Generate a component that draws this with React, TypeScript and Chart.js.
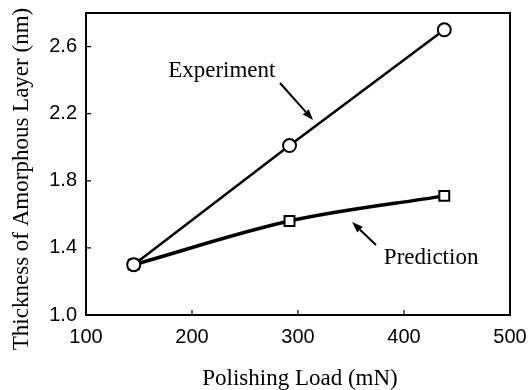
import React, { useEffect, useRef } from "react";
import { Chart, registerables } from "chart.js";

Chart.register(...registerables);

// ---- data ----
const loads = [145, 292, 438];
const experiment = [1.3, 2.01, 2.7];
const prediction = [1.3, 1.56, 1.71];
const xTicks = [100, 200, 300, 400, 500];
const yTicks = [1.0, 1.4, 1.8, 2.2, 2.6];
const xTitle = "Polishing Load (mN)";
const yTitle = "Thickness of Amorphous Layer (nm)";
const noteTexts = ["Experiment", "Prediction"];

// annotation placement (data units): text baseline-left anchor, arrow start, arrow tip
const notePlacement = [
  { tx: 177.5, ty: 2.418, ax0: 283, ay0: 2.383, ax1: 314.2, ay1: 2.162 },
  { tx: 381, ty: 1.304, ax0: 373.6, ay0: 1.417, ax1: 351, ay1: 1.554 },
];

const SERIF = "'Liberation Serif', 'Times New Roman', serif";
const SANS = "'Liberation Sans', Arial, sans-serif";

const framePlugin = {
  id: "frameAndNotes",
  afterDatasetsDraw(chart: any) {
    const { ctx, chartArea, scales } = chart;
    const xs = scales.x;
    const ys = scales.y;
    ctx.save();
    ctx.strokeStyle = "#000";
    ctx.lineWidth = 2;
    ctx.strokeRect(
      chartArea.left,
      chartArea.top,
      chartArea.right - chartArea.left,
      chartArea.bottom - chartArea.top
    );
    // inward tick marks
    ctx.lineWidth = 1.2;
    ctx.beginPath();
    xTicks.slice(1, -1).forEach((v) => {
      const px = xs.getPixelForValue(v);
      ctx.moveTo(px, chartArea.bottom);
      ctx.lineTo(px, chartArea.bottom - 5);
    });
    yTicks.slice(1).forEach((v) => {
      const py = ys.getPixelForValue(v);
      ctx.moveTo(chartArea.left, py);
      ctx.lineTo(chartArea.left + 5, py);
    });
    ctx.stroke();

    // axis titles
    ctx.fillStyle = "#000";
    ctx.font = `23px ${SERIF}`;
    ctx.textAlign = "center";
    ctx.textBaseline = "alphabetic";
    ctx.fillText(xTitle, (chartArea.left + chartArea.right) / 2 + 2, chart.height - 5);
    ctx.save();
    ctx.translate(28, (chartArea.top + chartArea.bottom) / 2 + 15);
    ctx.rotate(-Math.PI / 2);
    ctx.fillText(yTitle, 0, 0);
    ctx.restore();

    // annotations
    ctx.textAlign = "left";
    ctx.textBaseline = "alphabetic";
    noteTexts.forEach((t, i) => {
      const p = notePlacement[i];
      ctx.fillText(t, xs.getPixelForValue(p.tx), ys.getPixelForValue(p.ty));
      const x0 = xs.getPixelForValue(p.ax0);
      const y0 = ys.getPixelForValue(p.ay0);
      const x1 = xs.getPixelForValue(p.ax1);
      const y1 = ys.getPixelForValue(p.ay1);
      const ang = Math.atan2(y1 - y0, x1 - x0);
      const hl = 11;
      const hw = 4;
      const bx = x1 - hl * Math.cos(ang);
      const by = y1 - hl * Math.sin(ang);
      ctx.lineWidth = 2;
      ctx.beginPath();
      ctx.moveTo(x0, y0);
      ctx.lineTo(bx, by);
      ctx.stroke();
      ctx.beginPath();
      ctx.moveTo(x1, y1);
      ctx.lineTo(bx + hw * Math.sin(ang), by - hw * Math.cos(ang));
      ctx.lineTo(bx - hw * Math.sin(ang), by + hw * Math.cos(ang));
      ctx.closePath();
      ctx.fill();
    });
    ctx.restore();
  },
};

export default function App() {
  const ref = useRef<HTMLCanvasElement | null>(null);

  useEffect(() => {
    document.body.style.margin = "0";
    const canvas = ref.current;
    if (!canvas) return;
    const chart = new Chart(canvas, {
      type: "line",
      data: {
        datasets: [
          {
            label: "Experiment",
            data: loads.map((x, i) => ({ x, y: experiment[i] })),
            borderColor: "#000",
            borderWidth: 2.5,
            backgroundColor: "#fff",
            pointStyle: "circle",
            pointRadius: 6.5,
            pointBorderWidth: 2,
            pointBorderColor: "#000",
            pointBackgroundColor: "#fff",
            tension: 0,
          },
          {
            label: "Prediction",
            data: loads.map((x, i) => ({ x, y: prediction[i] })),
            borderColor: "#000",
            borderWidth: 3.5,
            backgroundColor: "#fff",
            pointStyle: "rect",
            pointRadius: 7,
            pointBorderWidth: 2,
            pointBorderColor: "#000",
            pointBackgroundColor: "#fff",
            cubicInterpolationMode: "monotone",
          },
        ],
      },
      options: {
        animation: false,
        responsive: false,
        devicePixelRatio: 1,
        layout: { padding: { top: 13, right: 20, left: 0, bottom: 0 } },
        plugins: {
          legend: { display: false },
          tooltip: { enabled: false },
        },
        scales: {
          x: {
            type: "linear",
            min: 100,
            max: 500,
            afterBuildTicks: (s: any) => {
              s.ticks = xTicks.map((v) => ({ value: v }));
            },
            afterFit: (s: any) => {
              s.height = 75;
              s.paddingLeft = 0;
              s.paddingRight = 0;
            },
            grid: { display: false, drawTicks: false },
            border: { display: false },
            ticks: {
              color: "#000",
              font: { family: SANS, size: 20 },
              padding: 10,
              autoSkip: false,
              maxRotation: 0,
            },
            title: { display: false },
          },
          y: {
            type: "linear",
            min: 1.0,
            max: 2.8,
            afterBuildTicks: (s: any) => {
              s.ticks = yTicks.map((v) => ({ value: v }));
            },
            afterFit: (s: any) => {
              s.width = 86;
              s.paddingTop = 0;
              s.paddingBottom = 0;
            },
            grid: { display: false, drawTicks: false },
            border: { display: false },
            ticks: {
              color: "#000",
              font: { family: SANS, size: 20 },
              padding: 9,
              callback: (v: any) => Number(v).toFixed(1),
            },
            title: { display: false },
          },
        },
      },
      plugins: [framePlugin],
    });
    return () => chart.destroy();
  }, []);

  return (
    <div style={{ width: 530, height: 390, background: "#fff" }}>
      <canvas ref={ref} width={530} height={390} />
    </div>
  );
}
